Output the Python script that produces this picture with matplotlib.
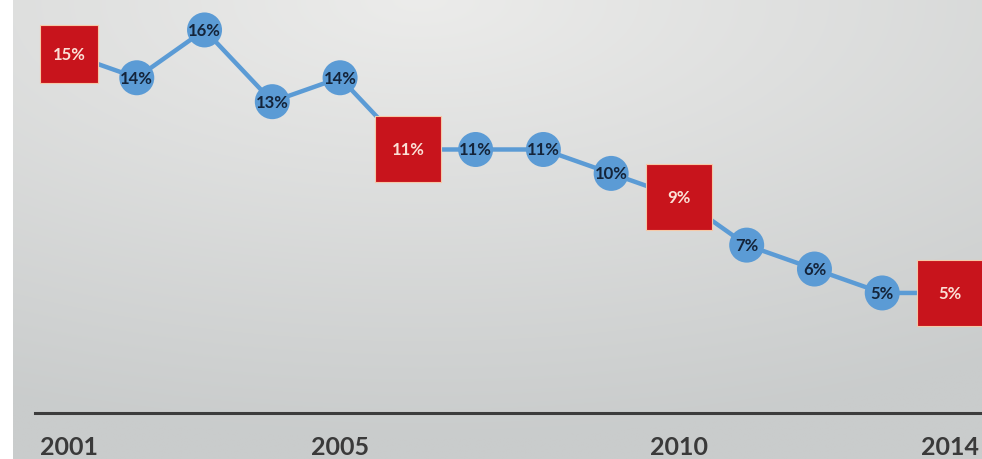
import numpy as np
import matplotlib
matplotlib.use("Agg")
import matplotlib.pyplot as plt

# data
years = [2001, 2002, 2003, 2004, 2005, 2006, 2007, 2008, 2009, 2010, 2011, 2012, 2013, 2014]
values = [15, 14, 16, 13, 14, 11, 11, 11, 10, 9, 7, 6, 5, 5]
highlight_years = [2001, 2006, 2010, 2014]
tick_years = [2001, 2005, 2010, 2014]

plt.rcParams['font.family'] = ['Lato', 'DejaVu Sans']

fig = plt.figure(figsize=(9.82, 4.60), dpi=100)
fig.patch.set_facecolor('white')

# background panel, soft radial gradient (light at top centre)
bg = fig.add_axes([13/982, 0, 1 - 13/982, 1])
bg.set_axis_off()
gx, gy = np.meshgrid(np.linspace(0, 1, 400), np.linspace(0, 1, 200))
d = np.sqrt((gx - 0.42) ** 2 + ((gy - 0.0) * 1.1) ** 2)
d = np.clip(d / 1.05, 0, 1)
light = np.array([0.925, 0.925, 0.92])
dark = np.array([0.79, 0.80, 0.80])
img = light[None, None, :] * (1 - d[..., None]) + dark[None, None, :] * d[..., None]
bg.imshow(img, aspect='auto', extent=[0, 1, 1, 0], interpolation='bilinear')
bg.set_xlim(0, 1)
bg.set_ylim(1, 0)

ax = fig.add_axes([0, 0, 1, 1])
ax.patch.set_alpha(0)
px = 67.77
ax.set_xlim(2001 - 69 / px, 2014 + 32 / px)
ppv = 23.91
ax.set_ylim(-(460 - 413.5) / ppv, 413.5 / ppv)
ax.set_axis_off()

blue = '#5b9bd5'
red = '#c8141c'

ax.plot(years, values, color=blue, lw=3.2, zorder=2, solid_capstyle='round')

# baseline
ax.plot([2001 - 34 / px, 2014 + 40 / px], [0, 0], color='#3c3c3c', lw=2.2, zorder=1)

for yr, v in zip(years, values):
    if yr in highlight_years:
        s = 1745 if yr == 2001 else 2326
        ax.scatter([yr], [v], s=s, marker='s', color=red, edgecolors='#f6c9a8',
                   linewidths=0.8, zorder=3)
        ax.text(yr, v, f'{v}%', ha='center', va='center', fontsize=12,
                fontweight='bold', color='#fbe0d6', zorder=4)
    else:
        ax.scatter([yr], [v], s=635, marker='o', color=blue, edgecolors='none', zorder=3)
        ax.text(yr, v, f'{v}%', ha='center', va='center', fontsize=12,
                fontweight='bold', color='#14243a', zorder=4)

for yr in tick_years:
    ax.text(yr, -(448 - 413.5) / ppv, str(yr), ha='center', va='center',
            fontsize=18, fontweight='bold', color='#3a3a3a')

fig.savefig('out.png', dpi=100)
